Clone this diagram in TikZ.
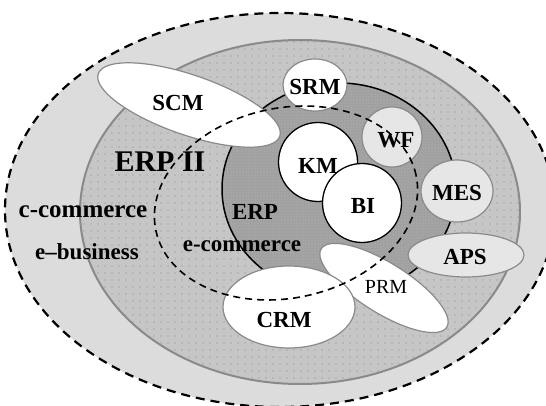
\documentclass[tikz,border=0pt]{standalone}
\usepackage{fontspec}
\setmainfont{Liberation Serif}
\usetikzlibrary{patterns.meta}
\definecolor{ringlight}{HTML}{DCDCDC}
\definecolor{ringmid}{HTML}{C6C6C6}
\definecolor{ringdark}{HTML}{A0A0A0}
\definecolor{edgegray}{HTML}{8A8A8A}
\definecolor{modlight}{HTML}{E6E6E6}

\begin{document}
\begin{tikzpicture}[x=1pt,y=-1pt,
  lbl/.style={inner sep=0pt,font=\fontsize{23}{23}\selectfont\bfseries},
  mod/.style={draw=edgegray,line width=1.2pt,fill=white},
  modgray/.style={mod,fill=modlight},
  core/.style={draw=black,line width=1.3pt,fill=white}]
\useasboundingbox (0,0) rectangle (546,406);
\clip (0,0) rectangle (546,406);
% outer rings
\draw[fill=ringlight,line width=2.2pt,dash pattern=on 9pt off 6pt] (280,210) ellipse [x radius=275pt,y radius=197pt];
\draw[edgegray,line width=2pt,preaction={fill=ringmid},pattern={Dots[distance=7pt,radius=0.9pt]},pattern color=ringmid!85!black] (300,212) ellipse [x radius=220pt,y radius=172pt];
\draw[black,line width=1.5pt,preaction={fill=ringdark},pattern={Dots[distance=3pt,radius=0.7pt]},pattern color=ringdark!75!white] (339,189) ellipse [x radius=117pt,y radius=106pt];
% modules
\draw[mod,rotate around={-19:(189,105)}] (189,105) ellipse [x radius=96pt,y radius=30pt];
\draw[mod] (315,85) ellipse [x radius=32pt,y radius=26pt];
\draw[modgray] (392,137) circle (30pt);
\draw[modgray] (457,191) ellipse [x radius=36pt,y radius=31pt];
\draw[modgray] (466,255) ellipse [x radius=58pt,y radius=22pt];
\draw[mod,rotate around={-32:(384,288)}] (384,288) ellipse [x radius=74pt,y radius=25pt];
\draw[mod] (289,307) ellipse [x radius=66pt,y radius=41pt];
\draw[core] (318,162) circle (39.5pt);
\draw[core] (362,203) circle (39.5pt);
% labels
\node[lbl] (scm) at (178,103) {SCM};
\node[lbl] (srm) at (315,87) {SRM};
\node[lbl] (wf) at (396,140) {WF};
\node[lbl] (km) at (318,166) {KM};
\node[lbl] (bi) at (363,206) {BI};
\node[lbl] (mes) at (457,193) {MES};
\node[lbl] (aps) at (465,257) {APS};
\node[lbl,font=\fontsize{20}{20}\selectfont] (prm) at (386,287) {PRM};
\node[lbl] (crm) at (284,320) {CRM};
\node[lbl,font=\fontsize{30}{30}\selectfont\bfseries] (erpii) at (160,162) {ERP II};
\node[lbl] (erp) at (255,212) {ERP};
\node[lbl] (ecom) at (242,246) {e-commerce};
\node[lbl,font=\fontsize{25}{25}\selectfont\bfseries] (ccom) at (83,212) {c-commerce};
\node[lbl] (ebus) at (87,252) {e--business};
% e-commerce boundary
\draw[line width=1.6pt,dash pattern=on 7pt off 5pt,rotate around={12:(286,203)}] (286,203) ellipse [x radius=133pt,y radius=95pt];
\end{tikzpicture}
\end{document}
